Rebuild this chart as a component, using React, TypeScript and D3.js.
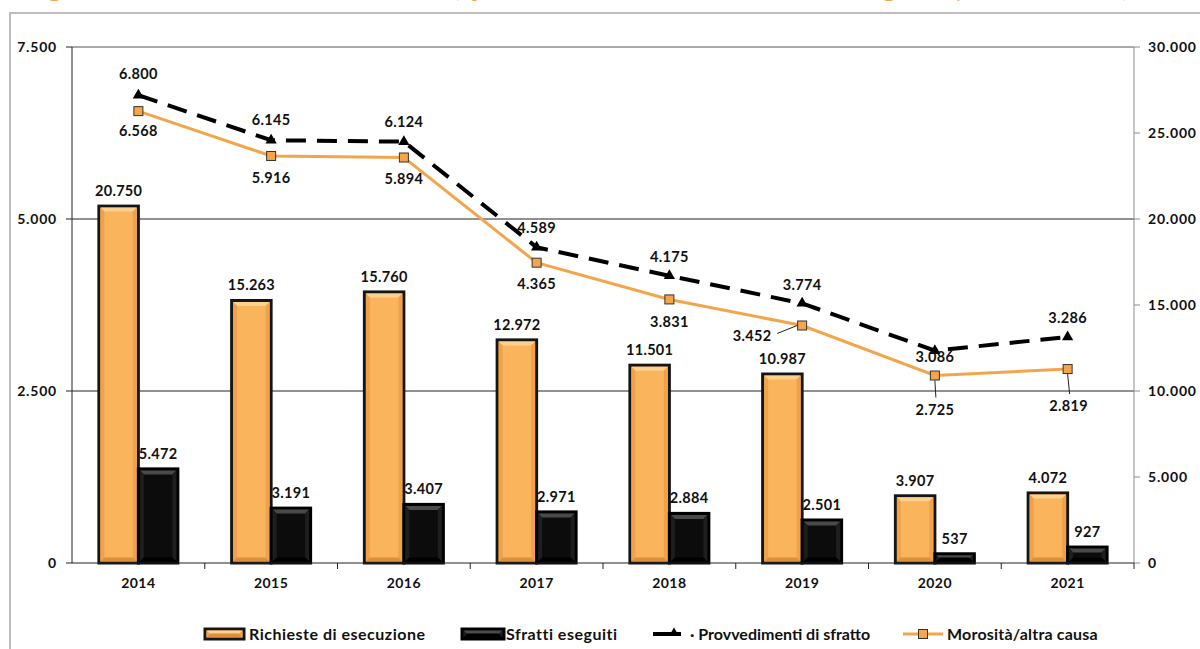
import React from 'react';
import * as d3 from 'd3';

const years = ['2014', '2015', '2016', '2017', '2018', '2019', '2020', '2021'];
const richieste = [20750, 15263, 15760, 12972, 11501, 10987, 3907, 4072];
const sfratti = [5472, 3191, 3407, 2971, 2884, 2501, 537, 927];
const provvedimenti = [6800, 6145, 6124, 4589, 4175, 3774, 3086, 3286];
const morosita = [6568, 5916, 5894, 4365, 3831, 3452, 2725, 2819];
const leftTicks = [0, 2500, 5000, 7500];
const rightTicks = [0, 5000, 10000, 15000, 20000, 25000, 30000];
const legendLabels = ['Richieste di esecuzione', 'Sfratti eseguiti', '\u00b7 Provvedimenti di sfratto', 'Morosità/altra causa'];
const titleText = 'Sfratti in Liguria: richieste di esecuzione, provvedimenti emessi ed eseguiti (2014-2021, valori assoluti, per tipo)';

// label placement (offsets relative to the data point)
const provLabelDy = [-21, -20, -20, -19, -19, -18, 6, -19];
const morLabelOffset: [number, number][] = [[0, 20], [0, 22], [0, 21], [0, 21], [0, 22], [-50, 10], [0, 34], [1, 37]];
const morLeader = ['', '', '', '', '', 'side', 'down', 'down'];

const W = 1200;
const H = 649;
const L = 72, R = 1134, T = 47, B = 563;

const it = d3.formatLocale({ decimal: ',', thousands: '.', grouping: [3], currency: ['€', ''] });
const fmt = it.format(',d');

const FONT = 'Lato, "Open Sans", sans-serif';
const LINE_OR = '#F2A64C';

function BevelBar({ x, y, w, h, kind }: { x: number; y: number; w: number; h: number; kind: 'o' | 'k' }) {
  const b = Math.min(4, h / 2);
  const c = kind === 'o'
    ? { base: '#F9B45C', top: '#FCD08E', side: '#EFA24A', bottom: '#DC8E38', stroke: '#151515' }
    : { base: '#0c0c0c', top: '#4a4a4a', side: '#1e1e1e', bottom: '#000000', stroke: '#000000' };
  const x0 = x + 1.5, y0 = y + 1.5, x1 = x + w - 1.5, y1 = y + h - 1.5;
  return (
    <g>
      <rect x={x} y={y} width={w} height={h} fill={c.base} stroke={c.stroke} strokeWidth={3} />
      <polygon points={`${x0},${y0} ${x1},${y0} ${x1 - b},${y0 + b} ${x0 + b},${y0 + b}`} fill={c.top} />
      <polygon points={`${x0},${y0} ${x0 + b},${y0 + b} ${x0 + b},${y1 - b} ${x0},${y1}`} fill={c.side} />
      <polygon points={`${x1},${y0} ${x1 - b},${y0 + b} ${x1 - b},${y1 - b} ${x1},${y1}`} fill={c.side} />
      <polygon points={`${x0},${y1} ${x0 + b},${y1 - b} ${x1 - b},${y1 - b} ${x1},${y1}`} fill={c.bottom} />
    </g>
  );
}

export default function App() {
  const x = d3.scaleBand<string>().domain(years).range([L, R]).padding(0);
  const bw = x.bandwidth();
  const gw = bw * 0.595;
  const x1 = d3.scaleBand<string>().domain(['r', 's']).range([(bw - gw) / 2, (bw + gw) / 2]).padding(0);
  const yL = d3.scaleLinear().domain([0, 7500]).range([B, T]);
  const yR = d3.scaleLinear().domain([0, 30000]).range([B, T]);
  const cx = (i: number) => (x(years[i]) as number) + bw / 2;

  const lineL = d3.line<number>().x((_, i) => cx(i)).y((d) => yL(d));
  const tri = d3.symbol().type(d3.symbolTriangle).size(55)() as string;
  const labelStyle = { fontFamily: FONT, fontWeight: 700, fontSize: 14.5, letterSpacing: 0.3, fill: '#111' } as const;
  const axisStyle = { fontFamily: FONT, fontWeight: 700, fontSize: 14, letterSpacing: 0.8, fill: '#111' } as const;

  return (
    <svg width={W} height={H} style={{ position: 'absolute', left: 0, top: 0, display: 'block', background: '#fff' }}>
      {/* clipped title: only descenders remain visible */}
      <text x={680} y={-4} textAnchor="middle" fill="#F5A54A" style={{ fontFamily: FONT, fontWeight: 700, fontSize: 32 }}>{titleText}</text>
      {/* frame */}
      <line x1={10} x2={W} y1={13} y2={13} stroke="#bdbdbd" strokeWidth={2} />
      <line x1={10} x2={10} y1={12} y2={H} stroke="#bdbdbd" strokeWidth={2} />

      {/* gridlines */}
      {leftTicks.filter((t) => t > 0).map((t) => (
        <line key={t} x1={L} x2={R} y1={yL(t)} y2={yL(t)} stroke={t === 7500 ? '#555' : '#222'} strokeWidth={1} />
      ))}

      {/* left axis */}
      <line x1={L} x2={L} y1={T} y2={B} stroke="#222" />
      {leftTicks.map((t) => (
        <g key={t}>
          <line x1={L - 6} x2={L} y1={yL(t)} y2={yL(t)} stroke="#222" />
          <text x={L - 15} y={yL(t)} dy="0.35em" textAnchor="end" style={axisStyle}>{fmt(t)}</text>
        </g>
      ))}
      {/* right axis */}
      <line x1={R} x2={R} y1={T} y2={B} stroke="#8c8c8c" />
      {rightTicks.map((t) => (
        <g key={t}>
          <line x1={R} x2={R + 6} y1={yR(t)} y2={yR(t)} stroke="#8c8c8c" />
          <text x={R + 14} y={yR(t)} dy="0.35em" textAnchor="start" style={axisStyle}>{fmt(t)}</text>
        </g>
      ))}

      {/* bars */}
      {years.map((yr, i) => {
        const x0 = x(yr) as number;
        const xr = x0 + (x1('r') as number);
        const xs = x0 + (x1('s') as number);
        const w = x1.bandwidth();
        return (
          <g key={yr}>
            <BevelBar x={xr} y={yR(richieste[i])} w={w} h={B - yR(richieste[i])} kind="o" />
            <BevelBar x={xs} y={yR(sfratti[i])} w={w} h={B - yR(sfratti[i])} kind="k" />
            <text x={xr + w / 2} y={yR(richieste[i]) - 10} textAnchor="middle" style={labelStyle}>{fmt(richieste[i])}</text>
            <text x={xs + w / 2} y={yR(sfratti[i]) - 10} textAnchor="middle" style={labelStyle}>{fmt(sfratti[i])}</text>
          </g>
        );
      })}

      {/* bottom axis */}
      <line x1={L} x2={R} y1={B} y2={B} stroke="#222" />
      {years.map((yr, i) => (
        <g key={yr}>
          <line x1={(x(yr) as number) + bw} x2={(x(yr) as number) + bw} y1={B} y2={B + 6} stroke="#222" />
          <text x={cx(i)} y={B + 20} dy="0.35em" textAnchor="middle" style={{ ...axisStyle, letterSpacing: 0.5 }}>{yr}</text>
        </g>
      ))}

      {/* Morosità line */}
      <path d={lineL(morosita) as string} fill="none" stroke={LINE_OR} strokeWidth={3} />
      {/* Provvedimenti line */}
      <path d={lineL(provvedimenti) as string} fill="none" stroke="#000" strokeWidth={4} strokeDasharray="20 11" />
      {provvedimenti.map((v, i) => (
        <path key={i} d={tri} transform={`translate(${cx(i)},${yL(v)})`} fill="#000" />
      ))}
      {morosita.map((v, i) => (
        <rect key={i} x={cx(i) - 4.5} y={yL(v) - 4.5} width={9} height={9} fill="#F5A54A" stroke="#333" strokeWidth={1} />
      ))}

      {/* line labels */}
      {provvedimenti.map((v, i) => (
        <text key={i} x={cx(i)} y={yL(v) + provLabelDy[i]} dy="0.35em" textAnchor="middle" style={labelStyle}>{fmt(v)}</text>
      ))}
      {morosita.map((v, i) => {
        const px = cx(i), py = yL(v);
        const [dx, dy] = morLabelOffset[i];
        const lx = px + dx, ly = py + dy;
        let leader = null;
        if (morLeader[i] === 'side') {
          leader = <line x1={lx + 25} y1={ly - 2} x2={px - 5} y2={py} stroke="#222" strokeWidth={1} />;
        } else if (morLeader[i] === 'down') {
          leader = <line x1={px} y1={py + 5} x2={lx + 1} y2={ly - 12} stroke="#222" strokeWidth={1} />;
        }
        return (
          <g key={i}>
            {leader}
            <text x={lx} y={ly} dy="0.35em" textAnchor="middle" style={labelStyle}>{fmt(v)}</text>
          </g>
        );
      })}

      {/* legend */}
      <g style={{ fontFamily: FONT, fontWeight: 700, fontSize: 16, letterSpacing: 0.5 }} fill="#111">
        <BevelBar x={205} y={629} w={39} h={10} kind="o" />
        <text x={249} y={634} dy="0.35em">{legendLabels[0]}</text>
        <BevelBar x={462} y={629} w={42} h={10} kind="k" />
        <text x={506} y={634} dy="0.35em">{legendLabels[1]}</text>
        <line x1={653} x2={681} y1={634} y2={634} stroke="#000" strokeWidth={4} />
        <path d={d3.symbol().type(d3.symbolTriangle).size(40)() as string} transform="translate(674,633)" fill="#000" />
        <text x={690} y={634} dy="0.35em" style={{ letterSpacing: 0 }}>{legendLabels[2]}</text>
        <line x1={903} x2={943} y1={634} y2={634} stroke={LINE_OR} strokeWidth={3} />
        <rect x={918.5} y={629.5} width={9} height={9} fill="#F5A54A" stroke="#333" strokeWidth={1} />
        <text x={947} y={634} dy="0.35em" style={{ letterSpacing: 0.2 }}>{legendLabels[3]}</text>
      </g>
    </svg>
  );
}
